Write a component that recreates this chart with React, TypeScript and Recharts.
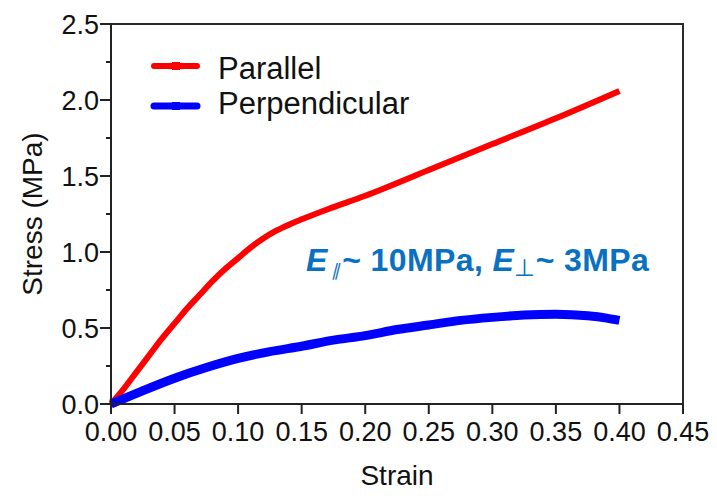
import React from 'react';
import { LineChart, Line, XAxis, YAxis, Label } from 'recharts';

const FONT = '"Liberation Sans", Arial, Helvetica, sans-serif';
const TEXT_COLOR = '#111111';
const AXIS_COLOR = '#222222';
const FRAME_COLOR = '#2a2a2a';
const CHART_W = 717;
const CHART_H = 499;
const MARGIN = { top: 24, right: 34, bottom: 35, left: 0 };
const Y_AXIS_W = 111;
const X_AXIS_H = 60;
const Y_TICK_SIZE = 10;
const Y_TICK_MARGIN = 2;

const parallelStrain = [0, 0.01, 0.02, 0.03, 0.04, 0.05, 0.06, 0.07, 0.08, 0.09, 0.10, 0.11, 0.12, 0.13, 0.14, 0.15, 0.17, 0.20, 0.25, 0.30, 0.35, 0.40];
const parallelStress = [0, 0.10, 0.21, 0.32, 0.43, 0.53, 0.63, 0.72, 0.81, 0.89, 0.96, 1.03, 1.09, 1.14, 1.18, 1.215, 1.28, 1.37, 1.54, 1.71, 1.88, 2.06];

const perpStrain = [0, 0.02, 0.05, 0.075, 0.10, 0.125, 0.15, 0.175, 0.20, 0.225, 0.25, 0.275, 0.30, 0.325, 0.35, 0.375, 0.39, 0.40];
const perpStress = [0, 0.07, 0.17, 0.24, 0.30, 0.345, 0.38, 0.42, 0.45, 0.49, 0.52, 0.55, 0.57, 0.585, 0.59, 0.58, 0.565, 0.55];

const xTicks = [0, 0.05, 0.10, 0.15, 0.20, 0.25, 0.30, 0.35, 0.40, 0.45];
const yTicks = [0, 0.25, 0.5, 0.75, 1.0, 1.25, 1.5, 1.75, 2.0, 2.25, 2.5];
const xMax = 0.45;
const yMax = 2.5;

const seriesNames = ['Parallel', 'Perpendicular'];
const seriesColors = ['#ff0000', '#0000ff'];

const xTitle = 'Strain';
const yTitle = 'Stress (MPa)';
const annotationColor = '#0a70c2';

const parallelData = parallelStrain.map((x, i) => ({ strain: x, stress: parallelStress[i] }));
const perpData = perpStrain.map((x, i) => ({ strain: x, stress: perpStress[i] }));

const YTick = (props: any) => {
  const { x, y, payload } = props;
  const v = payload.value as number;
  const major = Math.abs(v * 2 - Math.round(v * 2)) < 1e-6;
  const axisX = x + Y_TICK_SIZE + Y_TICK_MARGIN;
  return (
    <g>
      <line x1={axisX - (major ? 11 : 5)} x2={axisX} y1={y} y2={y} stroke={AXIS_COLOR} strokeWidth={2} />
      {major && (
        <text x={x} y={y} dy="0.36em" textAnchor="end" fontFamily={FONT} fontSize={27} fill={TEXT_COLOR}>
          {v.toFixed(1)}
        </text>
      )}
    </g>
  );
};

const XTitle = (props: any) => {
  const vb = props.viewBox;
  return (
    <text x={vb.x + vb.width / 2} y={vb.y + 81} textAnchor="middle" fontFamily={FONT} fontSize={28} fill={TEXT_COLOR}>
      {xTitle}
    </text>
  );
};

const FrameAndLegend = (props: any) => {
  const vb = props.viewBox;
  const left = vb.x;
  const right = vb.x + vb.width;
  const bottom = vb.y;
  const top = MARGIN.top;
  const legendX = left + 41;
  const rows = [
    { lineY: 66, textY: 68 },
    { lineY: 106, textY: 103 },
  ];
  return (
    <g>
      <rect x={left} y={top - 1} width={right - left + 1} height={2} fill={FRAME_COLOR} />
      <rect x={right - 1} y={top - 1} width={2} height={bottom - top + 1} fill={FRAME_COLOR} />
      {seriesNames.map((name, i) => (
        <g key={name}>
          <line x1={legendX + 2} x2={legendX + 45} y1={rows[i].lineY} y2={rows[i].lineY} stroke={seriesColors[i]} strokeWidth={i === 0 ? 6 : 7} strokeLinecap="round" />
          <rect x={legendX + 20} y={rows[i].lineY - 4} width={8} height={8} fill={seriesColors[i]} />
          <text x={legendX + 66} y={rows[i].textY} dy="0.36em" fontFamily={FONT} fontSize={31} fill={TEXT_COLOR}>
            {name}
          </text>
        </g>
      ))}
    </g>
  );
};

const YTitle = (props: any) => {
  const vb = props.viewBox;
  const cx = 42;
  const cy = vb.y + vb.height / 2;
  return (
    <text x={cx} y={cy} transform={`rotate(-90 ${cx} ${cy})`} textAnchor="middle" fontFamily={FONT} fontSize={28} fill={TEXT_COLOR}>
      {yTitle}
    </text>
  );
};

const Annotation = (props: any) => {
  const vb = props.viewBox;
  const x = vb.x + 195;
  const y = vb.y - 133;
  return (
    <text x={x} y={y} fontFamily={FONT} fontSize={32} fontWeight="bold" fill={annotationColor} letterSpacing={0.4}>
      <tspan fontStyle="italic">E</tspan>
      <tspan fontStyle="italic" fontSize={17} fontWeight="normal" dx={3} dy={5}>∥</tspan>
      <tspan dx={2} dy={-5}>~ 10MPa, </tspan>
      <tspan fontStyle="italic">E</tspan>
      <tspan fontSize={24} fontWeight="normal" dy={5}>⊥</tspan>
      <tspan dy={-5}>~ 3MPa</tspan>
    </text>
  );
};

export default function App() {
  return (
    <div style={{ position: 'absolute', left: 0, top: 0, width: CHART_W, height: CHART_H, background: '#ffffff' }}>
      <LineChart width={CHART_W} height={CHART_H} margin={MARGIN}>
        <XAxis
          dataKey="strain"
          type="number"
          domain={[0, xMax]}
          ticks={xTicks}
          interval={0}
          tickFormatter={(v: number) => v.toFixed(2)}
          tick={{ fontFamily: FONT, fontSize: 27, fill: TEXT_COLOR }}
          tickSize={10}
          tickMargin={8}
          stroke={AXIS_COLOR}
          strokeWidth={2}
          height={X_AXIS_H}
        >
          <Label content={FrameAndLegend} />
          <Label content={XTitle} />
          <Label content={Annotation} />
        </XAxis>
        <YAxis
          type="number"
          domain={[0, yMax]}
          ticks={yTicks}
          interval={0}
          width={Y_AXIS_W}
          tickLine={false}
          tickSize={Y_TICK_SIZE}
          tickMargin={Y_TICK_MARGIN}
          tick={YTick}
          stroke={AXIS_COLOR}
          strokeWidth={2}
        >
          <Label content={YTitle} />
        </YAxis>
        <Line
          data={parallelData}
          dataKey="stress"
          name={seriesNames[0]}
          type="monotone"
          stroke={seriesColors[0]}
          strokeWidth={6}
          dot={false}
          isAnimationActive={false}
        />
        <Line
          data={perpData}
          dataKey="stress"
          name={seriesNames[1]}
          type="monotone"
          stroke={seriesColors[1]}
          strokeWidth={9}
          dot={false}
          isAnimationActive={false}
        />
      </LineChart>
    </div>
  );
}
